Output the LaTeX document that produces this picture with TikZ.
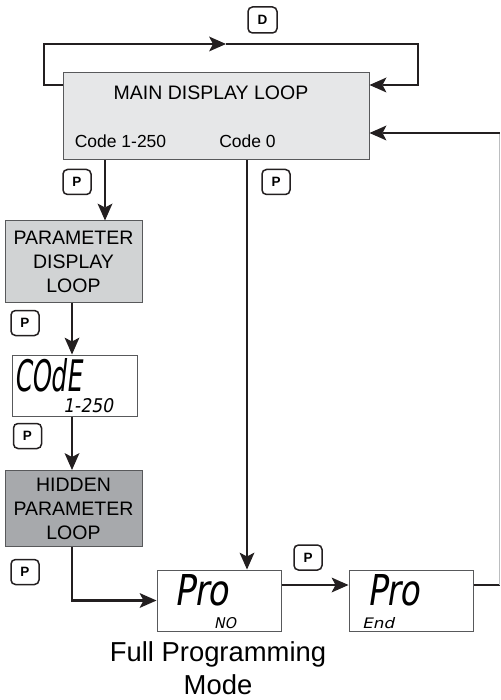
\documentclass[tikz,border=0pt]{standalone}
\usepackage{fontspec}
\usepackage{graphicx}
\setmainfont{Liberation Sans}
\newfontfamily\lcdfont[FakeSlant=0.2]{DejaVu Sans}
\usetikzlibrary{arrows.meta}
\definecolor{ink}{HTML}{231F20}
\definecolor{edge}{HTML}{58595B}
\definecolor{mainfill}{HTML}{E6E7E8}
\definecolor{parfill}{HTML}{D1D3D4}
\definecolor{hidfill}{HTML}{A7A9AC}
\definecolor{thinline}{HTML}{BCBEC0}
\newcommand\lcdtext[3]{\resizebox{#1}{#2}{\lcdfont #3}}
\begin{document}
\begin{tikzpicture}[x=1pt,y=-1pt,
  box/.style={draw=edge,line width=1pt,inner sep=0pt,align=center,
    font=\fontsize{19.5}{24}\selectfont},
  conn/.style={draw=ink,line width=2.8pt},
  arr/.style={-{Stealth[length=17pt,width=15pt,inset=4pt,line width=0pt]}},
  keybox/.style={draw=ink,line width=1.5pt,rounded corners=4.5pt,
    minimum width=28pt,minimum height=25pt,inner sep=0pt,
    font=\bfseries\fontsize{13.5}{14}\selectfont},
  lbl/.style={anchor=base,inner sep=0pt},
  lcd/.style={anchor=base west,inner sep=0pt}]
\useasboundingbox (0,0) rectangle (500,700);

% boxes
\node[box,fill=mainfill,minimum width=306pt,minimum height=87pt] (main) at (216,116.5) {};
\node[box,fill=parfill,minimum width=137pt,minimum height=81pt] (param) at (73.5,261.5) {PARAMETER\\DISPLAY\\LOOP};
\node[box,fill=white,minimum width=125pt,minimum height=61pt] (code) at (74.5,385.5) {};
\node[box,fill=hidfill,minimum width=137pt,minimum height=76pt] (hidden) at (73.5,508.5) {HIDDEN\\PARAMETER\\LOOP};
\node[box,fill=white,minimum width=124pt,minimum height=61pt] (pno) at (219,600.5) {};
\node[box,fill=white,minimum width=124pt,minimum height=61pt] (pend) at (411,600.5) {};

% main box texts
\node[lbl,font=\fontsize{19.5}{24}\selectfont] (tmain) at (211,100) {MAIN DISPLAY LOOP};
\node[lbl,font=\fontsize{17.5}{21}\selectfont] (tc1) at (120.5,148) {Code 1-250};
\node[lbl,font=\fontsize{17.5}{21}\selectfont] (tc0) at (247.5,148) {Code 0};

% LCD texts
\node[lcd] (lcode) at (14,391) {\lcdtext{68pt}{33pt}{COdE}};
\node[lcd] (lcodes) at (63,412) {\lcdtext{50pt}{14pt}{1-250}};
\node[lcd] (lpro1) at (174,605) {\lcdtext{54pt}{31pt}{Pro}};
\node[lcd] (lno) at (214,628) {\lcdtext{22pt}{11pt}{NO}};
\node[lcd] (lpro2) at (367,605) {\lcdtext{52pt}{31pt}{Pro}};
\node[lcd] (lend) at (362,628) {\lcdtext{32pt}{11pt}{End}};

% caption
\node[lbl,font=\fontsize{27.4}{34}\selectfont] (cap1) at (218,661) {Full Programming};
\node[lbl,font=\fontsize{27.4}{34}\selectfont] (cap2) at (218,694) {Mode};

% keys
\node[keybox,minimum width=29pt,minimum height=26pt] (kD) at (262.5,20) {D};
\node[keybox] (kP1) at (77,182) {P};
\node[keybox] (kP2) at (276,182) {P};
\node[keybox] (kP3) at (25,323) {P};
\node[keybox] (kP4) at (27.5,436) {P};
\node[keybox] (kP5) at (25,572) {P};
\node[keybox] (kP6) at (308,557.5) {P};

% D loop
\coordinate (dl) at (44,44);
\coordinate (dm) at (226,44);
\coordinate (dr) at (418,44);
\draw[conn,arr] ([yshift=31.5pt]main.west) -| (dl) -- (dm);
\draw[conn,arr] (dm) -- (dr) |- ([yshift=31.5pt]main.east);

% flows
\draw[conn,arr] ([xshift=-111pt]main.south) -- ([xshift=31.5pt]param.north);
\draw[conn,arr] ([xshift=31pt]main.south) -- ([xshift=28pt]pno.north);
\draw[conn,arr] ([xshift=-1.5pt]param.south) -- ([xshift=-2.5pt]code.north);
\draw[conn,arr] ([xshift=-2.5pt]code.south) -- ([xshift=-1.5pt]hidden.north);
\draw[conn,arr] ([xshift=-1.5pt]hidden.south) |- (pno.west);
\draw[conn,arr] ([yshift=15.5pt]pno.east) -- ([yshift=15.5pt]pend.west);

% return loop
\coordinate (rb) at (499.5,585);
\coordinate (rt) at (499.5,133);
\draw[conn] ([yshift=15.5pt]pend.east) -- (rb);
\draw[draw=thinline,line width=1pt] (rb) -- (rt);
\draw[conn,arr] (rt) -- ([yshift=-16.5pt]main.east);
\end{tikzpicture}
\end{document}
